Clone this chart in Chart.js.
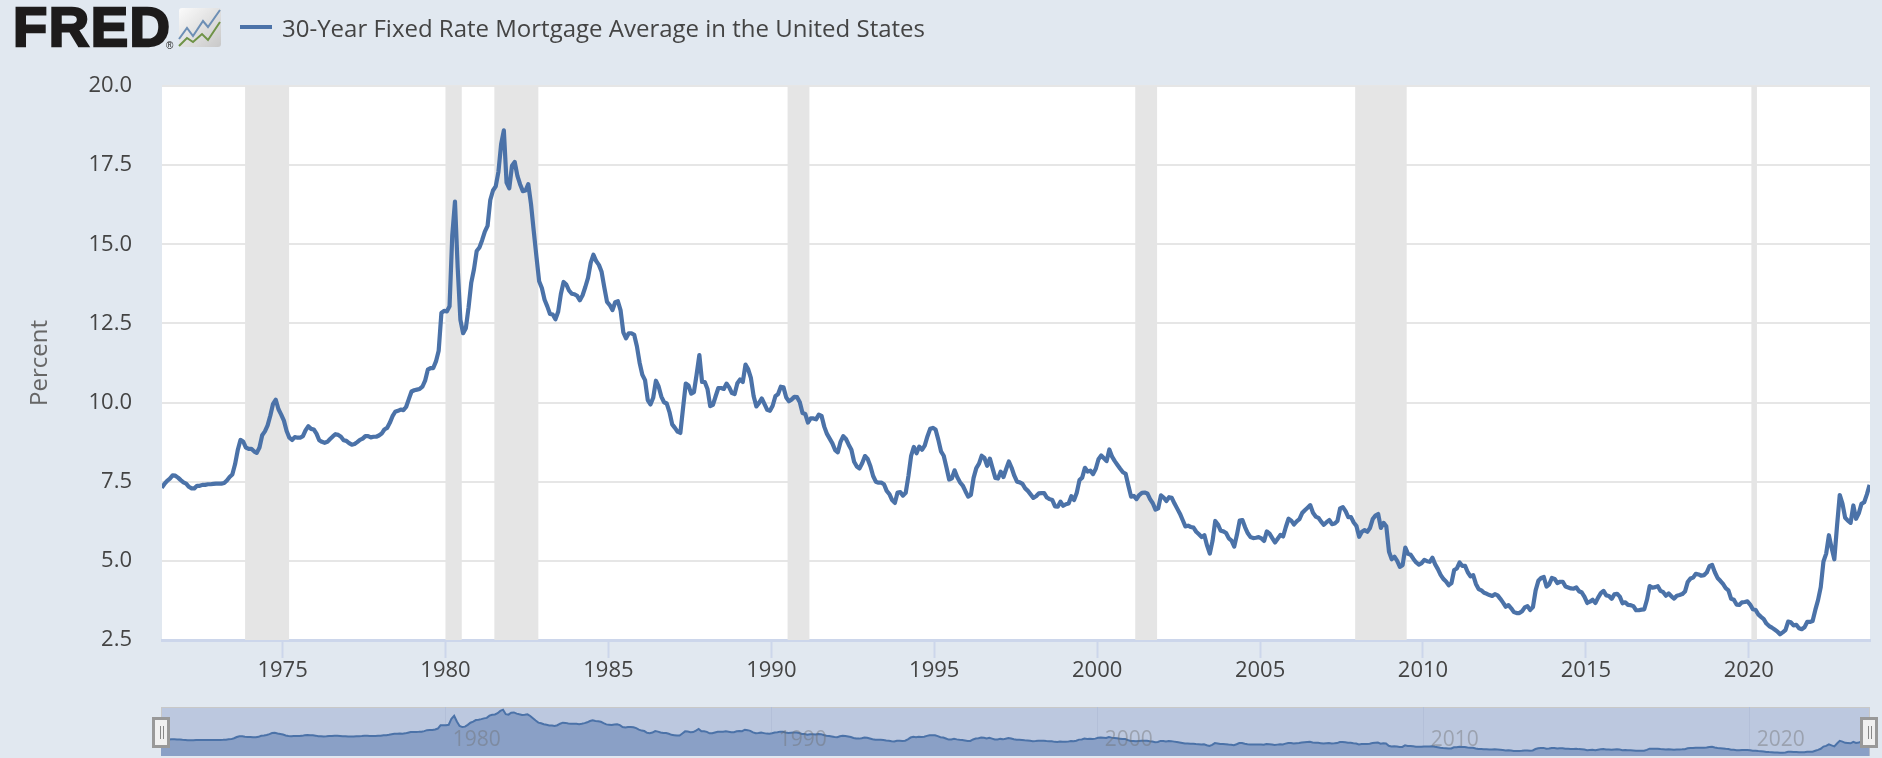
<!DOCTYPE html>
<html><head><meta charset="utf-8">
<script src="https://cdn.jsdelivr.net/npm/chart.js@4/dist/chart.umd.min.js"></script>
<style>
html,body{margin:0;padding:0;width:1882px;height:758px;overflow:hidden;background:#e1e8f0;font-family:"Open Sans",sans-serif}
#main,#nav{position:absolute}
#main{left:0;top:0}
#nav{left:161px;top:707px}
#brand{position:absolute;left:13px;top:-3px;font:900 56px/60px "Liberation Sans",sans-serif;color:#1d1b1b;letter-spacing:1.5px;-webkit-text-stroke:2.4px #1d1b1b}
#reg{position:absolute;left:166px;top:41px;font:10px/10px "Liberation Sans";color:#222}
#icon{position:absolute;left:178px;top:7px}
#swatch{position:absolute;left:240px;top:25px;width:32px;height:4px;background:#4b72a8}
#legend{position:absolute;left:282px;top:10px;font:24px/36px "Open Sans",sans-serif;color:#444;white-space:nowrap}
.h{position:absolute;background:#f0f0f0;border:3px solid #999;box-sizing:border-box;width:18px;height:31px;top:717px}
.h i{position:absolute;top:6px;height:13px;width:1px;background:#888}
</style></head><body>
<canvas id="main" width="1882" height="758" style="width:1882px;height:758px"></canvas>
<canvas id="nav" width="1709" height="49" style="width:1709px;height:49px"></canvas>
<div id="brand">FRED</div><div id="reg">®</div>
<svg id="icon" width="44" height="41" viewBox="0 0 44 41"><defs><linearGradient id="g" x1="0" y1="0" x2="1" y2="1"><stop offset="0" stop-color="#fbfbfb"/><stop offset="1" stop-color="#c8c8c8"/></linearGradient></defs><rect x="1" y="1" width="42" height="39" rx="3" fill="url(#g)"/><polyline points="1,32 9,21 15,29 25,14 30,20 42,3" fill="none" stroke="#6d8fb5" stroke-width="2"/><polyline points="1,39 9,31 15,35 24,27 30,33 42,15" fill="none" stroke="#6f9347" stroke-width="2"/></svg>
<div id="swatch"></div>
<div id="legend">30-Year Fixed Rate Mortgage Average in the United States</div>
<div class="h" style="left:152px"><i style="left:5px"></i><i style="left:8px"></i></div>
<div class="h" style="left:1860px"><i style="left:5px"></i><i style="left:8px"></i></div>
<script>
const seriesName = "30-Year Fixed Rate Mortgage Average in the United States";
const startYear = 1971, startMonth = 3;
const rates = [
7.31,7.43,7.53,7.60,7.70,7.69,7.63,7.55,7.48,
7.44,7.34,7.29,7.29,7.37,7.37,7.40,7.40,7.42,7.42,7.43,7.44,
7.44,7.44,7.46,7.54,7.65,7.73,8.05,8.50,8.82,8.77,8.58,8.54,
8.54,8.46,8.41,8.58,8.97,9.09,9.28,9.59,9.96,10.09,9.79,9.62,
9.43,9.10,8.89,8.82,8.91,8.89,8.89,8.94,9.13,9.25,9.17,9.15,
9.02,8.81,8.76,8.73,8.76,8.85,8.93,9.00,8.98,8.92,8.81,8.79,
8.72,8.67,8.69,8.75,8.82,8.86,8.94,8.94,8.90,8.92,8.92,8.96,
9.02,9.15,9.20,9.36,9.57,9.71,9.74,9.78,9.76,9.86,10.11,10.35,
10.39,10.41,10.43,10.50,10.69,11.04,11.09,11.09,11.30,11.64,12.83,12.90,
12.88,13.04,15.28,16.35,14.26,12.61,12.19,12.35,13.00,13.79,14.21,14.79,
14.90,15.13,15.40,15.58,16.40,16.70,16.83,17.29,18.16,18.60,16.95,16.77,
17.48,17.60,17.16,16.89,16.68,16.70,16.90,16.27,15.43,14.61,13.83,13.62,
13.25,13.04,12.80,12.78,12.63,12.87,13.43,13.81,13.73,13.54,13.44,13.42,
13.37,13.23,13.39,13.65,13.94,14.42,14.67,14.47,14.35,14.13,13.64,13.18,
13.08,12.92,13.17,13.20,12.91,12.22,12.03,12.19,12.19,12.14,11.78,11.26,
10.88,10.71,10.08,9.94,10.15,10.69,10.51,10.19,10.01,9.97,9.70,9.31,
9.20,9.08,9.04,9.83,10.60,10.54,10.28,10.33,10.89,11.50,10.65,10.65,
10.43,9.89,9.93,10.20,10.46,10.46,10.43,10.60,10.48,10.30,10.27,10.61,
10.73,10.65,11.20,11.05,10.77,10.20,9.88,9.99,10.13,9.95,9.77,9.74,
9.90,10.20,10.27,10.50,10.48,10.16,10.04,10.10,10.18,10.17,10.01,9.67,
9.64,9.37,9.50,9.50,9.47,9.62,9.58,9.24,9.01,8.86,8.71,8.50,
8.43,8.76,8.94,8.85,8.67,8.51,8.13,7.98,7.92,8.09,8.31,8.22,
7.99,7.68,7.50,7.47,7.47,7.42,7.21,7.11,6.92,6.83,7.16,7.17,
7.06,7.15,7.68,8.32,8.60,8.40,8.61,8.51,8.64,8.93,9.17,9.20,
9.15,8.83,8.46,8.32,7.96,7.57,7.61,7.86,7.64,7.48,7.38,7.20,
7.03,7.08,7.62,7.93,8.07,8.32,8.25,8.00,8.23,7.92,7.62,7.60,
7.82,7.65,7.90,8.14,7.94,7.69,7.50,7.48,7.43,7.29,7.21,7.10,
6.99,7.04,7.13,7.14,7.14,7.00,6.95,6.92,6.72,6.71,6.87,6.74,
6.79,6.81,7.04,6.92,7.15,7.55,7.63,7.94,7.82,7.85,7.74,7.91,
8.21,8.33,8.24,8.15,8.52,8.29,8.15,8.03,7.91,7.80,7.75,7.38,
7.03,7.05,6.95,7.08,7.15,7.16,7.13,6.95,6.82,6.62,6.66,7.07,
7.00,6.89,7.01,6.99,6.81,6.65,6.49,6.29,6.09,6.11,6.07,6.05,
5.92,5.84,5.75,5.81,5.48,5.23,5.63,6.26,6.15,5.95,5.93,5.88,
5.71,5.64,5.45,5.83,6.27,6.29,6.06,5.87,5.75,5.72,5.73,5.75,
5.71,5.63,5.93,5.86,5.72,5.58,5.70,5.82,5.77,6.07,6.33,6.27,
6.15,6.25,6.32,6.51,6.60,6.68,6.76,6.52,6.40,6.36,6.24,6.14,
6.22,6.29,6.16,6.18,6.26,6.66,6.70,6.57,6.38,6.38,6.21,6.10,
5.76,5.92,5.97,5.92,6.04,6.32,6.43,6.48,6.04,6.20,6.09,5.29,
5.05,5.13,5.00,4.81,4.86,5.42,5.22,5.19,5.06,4.95,4.88,4.93,
5.03,4.99,4.97,5.10,4.89,4.74,4.56,4.43,4.35,4.23,4.30,4.71,
4.76,4.95,4.84,4.84,4.64,4.51,4.55,4.27,4.11,4.07,3.99,3.96,
3.92,3.89,3.95,3.91,3.80,3.68,3.55,3.60,3.50,3.38,3.35,3.35,
3.41,3.53,3.57,3.45,3.54,4.07,4.37,4.46,4.49,4.19,4.26,4.46,
4.43,4.30,4.34,4.34,4.19,4.16,4.13,4.12,4.16,4.04,4.00,3.86,
3.67,3.71,3.77,3.67,3.84,3.98,4.05,3.91,3.89,3.80,3.94,3.96,
3.87,3.66,3.69,3.61,3.60,3.57,3.44,3.44,3.46,3.47,3.77,4.20,
4.15,4.17,4.20,4.05,4.01,3.90,3.97,3.88,3.81,3.90,3.92,3.95,
4.03,4.33,4.44,4.47,4.59,4.57,4.53,4.55,4.63,4.83,4.87,4.64,
4.46,4.37,4.27,4.14,4.07,3.80,3.77,3.62,3.61,3.69,3.70,3.72,
3.62,3.47,3.45,3.31,3.23,3.16,3.02,2.94,2.89,2.83,2.77,2.68,
2.74,2.81,3.08,3.06,2.96,2.98,2.87,2.84,2.90,3.07,3.07,3.10,
3.45,3.76,4.17,4.98,5.23,5.81,5.41,5.05,6.11,7.08,6.81,6.36,
6.27,6.20,6.75,6.33,6.50,6.80,6.85,7.10,7.40
];
const yTicks = [2.5,5,7.5,10,12.5,15,17.5,20];
const xTicks = [1975,1980,1985,1990,1995,2000,2005,2010,2015,2020];
const navTicks = [1980,1990,2000,2010,2020];
const recessionStart = [1973.85,1980.0,1981.5,1990.5,2001.17,2007.92,2020.08];
const recessionEnd   = [1975.2,1980.5,1982.85,1991.17,2001.84,2009.5,2020.25];
const xMin = 1971.3, xMax = 2023.72;
const LINE = "#4b72a8", FONT = '"Open Sans",sans-serif';
const points = rates.map((v,i)=>({x:startYear+(startMonth+i+0.5)/12,y:v}));
Chart.defaults.animation=false;
Chart.defaults.responsive=false;

const plotBg={id:"plotBg",beforeDraw(c){const {ctx,chartArea:a}=c;ctx.save();ctx.fillStyle="#fff";ctx.fillRect(a.left,a.top,a.right-a.left,a.bottom-a.top);ctx.restore()}};
const recessions={id:"recessions",beforeDatasetsDraw(c){
  const {ctx,chartArea:a,scales:{x}}=c;ctx.save();ctx.fillStyle="#e5e5e5";
  recessionStart.forEach((s,i)=>{const l=x.getPixelForValue(s),r=x.getPixelForValue(recessionEnd[i]);ctx.fillRect(l,a.top,r-l,a.bottom-a.top)});
  ctx.restore();}};

new Chart(document.getElementById("main"),{type:"line",
 data:{datasets:[{label:seriesName,data:points,borderColor:LINE,borderWidth:4.2,pointRadius:0,tension:0,borderJoinStyle:"round",fill:false}]},
 plugins:[plotBg,recessions],
 options:{parsing:false,normalized:true,layout:{padding:{top:86,right:12,left:0,bottom:0}},
  plugins:{legend:{display:false},tooltip:{enabled:false}},
  scales:{
   x:{type:"linear",min:xMin,max:xMax,
    afterBuildTicks(s){s.ticks=xTicks.map(v=>({value:v}))},
    afterFit(s){s.height=118},
    grid:{drawOnChartArea:false,drawTicks:true,tickLength:18,tickColor:"#ccd6eb",tickWidth:2},
    border:{color:"#ccd6eb",width:3},
    ticks:{callback:v=>String(v),font:{family:FONT,size:22},color:"#444",padding:0,maxRotation:0,autoSkip:false}},
   y:{type:"linear",min:2.5,max:20,
    afterBuildTicks(s){s.ticks=yTicks.map(v=>({value:v}))},
    afterFit(s){s.width=162},
    grid:{color:"#e6e6e6",lineWidth:2,drawTicks:false},
    border:{display:false},
    ticks:{callback:v=>v.toFixed(1),font:{family:FONT,size:22},color:"#444",padding:30},
    title:{display:true,text:"Percent",font:{family:FONT,size:24},color:"#666",padding:{top:26,bottom:0}}}
  }}});

const navPaint={id:"navPaint",
 beforeDatasetsDraw(c){const {ctx,scales:{x}}=c;ctx.save();ctx.strokeStyle="#b3bfd8";ctx.lineWidth=1;
  xTicks.filter(v=>v%10==0).forEach(v=>{const p=Math.round(x.getPixelForValue(v))+.5;ctx.beginPath();ctx.moveTo(p,0);ctx.lineTo(p,c.height);ctx.stroke()});ctx.restore()},
 afterDatasetsDraw(c){const {ctx,scales:{x}}=c;ctx.save();ctx.fillStyle="rgba(110,110,110,.42)";ctx.font='21px '+FONT;ctx.textBaseline="middle";
  navTicks.forEach(v=>ctx.fillText(String(v),x.getPixelForValue(v)+8,33));ctx.restore()}};
new Chart(document.getElementById("nav"),{type:"line",
 data:{datasets:[{data:points,borderColor:LINE,borderWidth:2,pointRadius:0,tension:0,fill:"start",backgroundColor:"#8aa0c6"}]},
 plugins:[{id:"navBg",beforeDraw(c){const {ctx}=c;ctx.fillStyle="#bcc8df";ctx.fillRect(0,0,c.width,c.height);ctx.strokeStyle="#c8c8c8";ctx.lineWidth=2;ctx.strokeRect(0,0,c.width,c.height)}},navPaint],
 options:{parsing:false,normalized:true,layout:{padding:0},plugins:{legend:{display:false},tooltip:{enabled:false}},
  scales:{x:{type:"linear",display:false,min:xMin,max:xMax},y:{type:"linear",display:false,min:1.5,max:19.6}}}});
</script></body></html>
